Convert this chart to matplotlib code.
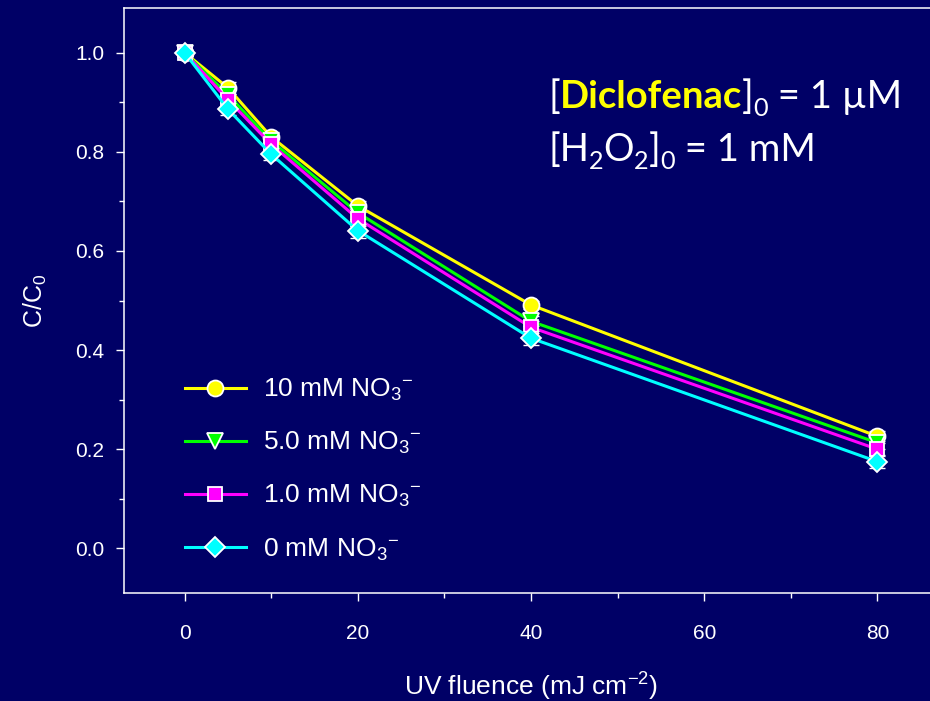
import matplotlib
matplotlib.use("Agg")
import matplotlib.pyplot as plt
from matplotlib.ticker import MultipleLocator, FormatStrFormatter

# ---- data ----
fluence = [0, 5, 10, 20, 40, 80]
c_10mM = [1.000, 0.929, 0.830, 0.691, 0.491, 0.226]
c_5mM = [1.000, 0.915, 0.822, 0.677, 0.458, 0.213]
c_1mM = [1.000, 0.905, 0.815, 0.665, 0.446, 0.200]
c_0mM = [1.000, 0.886, 0.795, 0.641, 0.424, 0.175]
err_10mM = [0.006, 0.012, 0.010, 0.010, 0.008, 0.010]
err_5mM = [0.006, 0.012, 0.012, 0.012, 0.010, 0.012]
err_1mM = [0.006, 0.012, 0.012, 0.014, 0.012, 0.012]
err_0mM = [0.006, 0.012, 0.012, 0.014, 0.014, 0.012]
labels = [r"10 mM NO$_3$$^{-}$", r"5.0 mM NO$_3$$^{-}$", r"1.0 mM NO$_3$$^{-}$", r"0 mM NO$_3$$^{-}$"]
series = [c_10mM, c_5mM, c_1mM, c_0mM]
errors = [err_10mM, err_5mM, err_1mM, err_0mM]

colors = ["#FFFF00", "#00FF00", "#FF00FF", "#00FFFF"]
markers = ["o", "v", "s", "D"]
msizes = [11.5, 11, 10, 10]
BG = "#000066"

plt.rcParams["font.family"] = ["Liberation Sans", "DejaVu Sans"]
plt.rcParams["mathtext.fontset"] = "custom"
plt.rcParams["mathtext.rm"] = "Liberation Sans"
plt.rcParams["mathtext.it"] = "Liberation Sans:italic"
plt.rcParams["mathtext.bf"] = "Liberation Sans:bold"

W, H = 930, 701
fig = plt.figure(figsize=(W / 100, H / 100), dpi=100, facecolor=BG)
ax = fig.add_axes([124 / W, 1 - 593 / H, (938 - 124) / W, (593 - 8) / H])
ax.set_facecolor(BG)

for i, (y, e, c, m, ms, lab) in enumerate(zip(series, errors, colors, markers, msizes, labels)):
    ax.errorbar(fluence, y, yerr=e, fmt="none", ecolor="white", elinewidth=1,
                capsize=6, capthick=1, zorder=3 + 2 * i)
    ax.plot(fluence, y, color=c, lw=2.2, marker=m, ms=ms, mfc=c, mec="white",
            mew=1.3, label=lab, zorder=4 + 2 * i)

ax.set_xlim(-7, 87)
ax.set_ylim(-0.09, 1.09)
ax.xaxis.set_major_locator(MultipleLocator(20))
ax.xaxis.set_minor_locator(MultipleLocator(10))
ax.yaxis.set_major_locator(MultipleLocator(0.2))
ax.yaxis.set_minor_locator(MultipleLocator(0.1))
ax.yaxis.set_major_formatter(FormatStrFormatter("%.1f"))

for sp in ax.spines.values():
    sp.set_color("white")
    sp.set_linewidth(1.1)

ax.tick_params(axis="both", which="both", colors="white", direction="out", width=1)
ax.tick_params(axis="both", which="major", length=6, labelsize=15)
ax.tick_params(axis="both", which="minor", length=3.5)
ax.tick_params(axis="x", which="major", pad=16)
ax.tick_params(axis="y", which="major", pad=8)
ax.tick_params(axis="x", which="minor", pad=16)

ax.set_xlabel(r"UV fluence (mJ cm$^{-2}$)", color="white", fontsize=19, labelpad=20)
ax.set_ylabel(r"C/C$_0$", color="white", fontsize=18, labelpad=19)

leg = ax.legend(loc="upper left", bbox_to_anchor=(61 / 814, 1 - 369 / 585),
                frameon=False, fontsize=19, handlelength=2.3, handletextpad=0.65,
                labelspacing=1.02, borderpad=0, borderaxespad=0)
for t in leg.get_texts():
    t.set_color("white")

# ---- rich annotation text ----
fig.canvas.draw()
renderer = fig.canvas.get_renderer()
FS = 27.5
FONT = ["Lato", "DejaVu Sans"]


def rich_line(pieces, x0, y0):
    x = x0
    for s, color, weight, sub in pieces:
        size = FS * 0.66 if sub else FS
        dy = FS * 1.389 * 0.22 if sub else 0
        t = fig.text(x / W, 1 - (y0 + dy) / H, s, color=color, fontsize=size,
                     fontweight=weight, family=FONT, ha="left", va="baseline")
        bb = t.get_window_extent(renderer)
        x += bb.width


rich_line([("[", "white", "normal", False),
           ("Diclofenac", "#FFFF00", "bold", False),
           ("]", "white", "normal", False),
           ("0", "white", "normal", True),
           (" = 1 \u00b5M", "white", "normal", False)], 548, 108)
rich_line([("[H", "white", "normal", False),
           ("2", "white", "normal", True),
           ("O", "white", "normal", False),
           ("2", "white", "normal", True),
           ("]", "white", "normal", False),
           ("0", "white", "normal", True),
           (" = 1 mM", "white", "normal", False)], 548, 161)

fig.savefig("out.png", dpi=100, facecolor=BG)
